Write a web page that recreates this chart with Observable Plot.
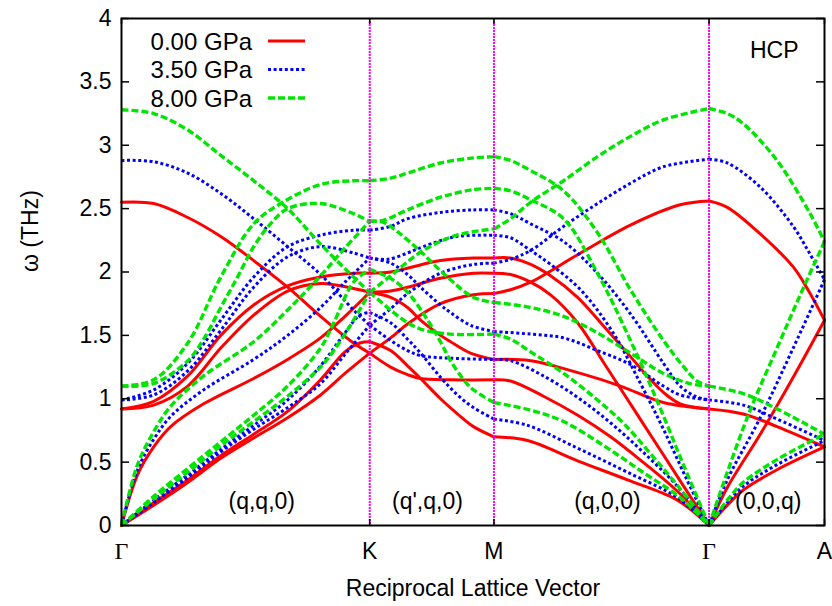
<!DOCTYPE html>
<html>
<head>
<meta charset="utf-8">
<script src="https://cdn.jsdelivr.net/npm/d3@7"></script>
<script src="https://cdn.jsdelivr.net/npm/@observablehq/plot@0.6"></script>
<style>
  html, body { margin: 0; padding: 0; background: white; }
  svg { display: block; }
</style>
</head>
<body>
<script>
// ---------- data (q along the path Γ-K-M-Γ-A, ω in THz) ----------
const tickPos = [0, 1.333, 2.0, 3.155, 3.775];
const tickLabels = ["Γ", "K", "M", "Γ", "A"];
const yTicks = [0, 0.5, 1, 1.5, 2, 2.5, 3, 3.5, 4];
const pressures = ["0.00 GPa", "3.50 GPa", "8.00 GPa"];
const pathLabels = ["(q,q,0)", "(q',q,0)", "(q,0,0)", "(0,0,q)"];
const pathLabelQ = [0.753, 1.643, 2.609, 3.473];

// 0.00 GPa
const red_GK = [
  [[0,2.55],[0.173,2.54],[0.356,2.43],[0.533,2.28],[0.71,2.09],[0.892,1.88],[1.069,1.65],[1.246,1.44],[1.333,1.36]],
  [[0,0.92],[0.173,0.98],[0.356,1.18],[0.533,1.50],[0.71,1.74],[0.892,1.89],[1.069,1.96],[1.246,1.99],[1.333,1.99]],
  [[0,0.92],[0.173,0.95],[0.356,1.10],[0.533,1.40],[0.71,1.66],[0.892,1.85],[1.069,1.91],[1.246,1.87],[1.333,1.84]],
  [[0,0],[0.086,0.40],[0.173,0.62],[0.264,0.78],[0.441,0.96],[0.71,1.16],[0.892,1.31],[1.069,1.48],[1.2,1.65],[1.333,1.84]],
  [[0,0],[0.173,0.16],[0.356,0.34],[0.533,0.53],[0.71,0.69],[0.892,0.85],[1.069,1.03],[1.2,1.2],[1.333,1.36]],
  [[0,0],[0.173,0.18],[0.356,0.36],[0.533,0.55],[0.71,0.72],[0.892,0.9],[1.069,1.15],[1.2,1.37],[1.28,1.44],[1.333,1.45]]
];
const red_KM = [
  [[1.333,1.99],[1.445,2.0],[1.536,2.03],[1.713,2.09],[1.89,2.11],[2.0,2.11]],
  [[1.333,1.84],[1.445,1.85],[1.536,1.88],[1.713,1.95],[1.89,1.99],[2.0,1.99]],
  [[1.333,1.84],[1.445,1.80],[1.536,1.72],[1.606,1.62],[1.713,1.50],[1.767,1.45],[1.874,1.36],[2.0,1.31]],
  [[1.333,1.45],[1.445,1.38],[1.536,1.26],[1.606,1.16],[1.713,1.0],[1.804,0.88],[1.89,0.78],[2.0,0.70]],
  [[1.333,1.36],[1.445,1.25],[1.536,1.19],[1.606,1.16],[1.767,1.15],[2.0,1.15]],
  [[1.333,1.36],[1.445,1.48],[1.536,1.59],[1.713,1.75],[1.89,1.82],[2.0,1.83]]
];
const red_MG = [
  [[2.0,1.83],[2.089,1.86],[2.197,1.92],[2.465,2.15],[2.733,2.37],[3.0,2.53],[3.155,2.56]],
  [[2.0,2.11],[2.089,2.11],[2.197,2.06],[2.304,1.97],[2.449,1.80],[2.573,1.60],[2.717,1.36],[2.823,1.18],[2.91,1.05],[3.0,0.96],[3.155,0.92]],
  [[2.0,1.99],[2.089,1.98],[2.197,1.92],[2.304,1.82],[2.449,1.60],[2.6,1.26],[2.75,0.92],[2.9,0.58],[3.155,0]],
  [[2.0,1.31],[2.197,1.30],[2.465,1.20],[2.68,1.10],[2.91,0.97],[3.155,0.92]],
  [[2.0,1.15],[2.089,1.14],[2.266,1.02],[2.45,0.87],[2.626,0.70],[2.8,0.50],[2.985,0.27],[3.155,0]],
  [[2.0,0.70],[2.18,0.67],[2.449,0.51],[2.717,0.36],[2.985,0.20],[3.155,0]]
];
const red_GA = [
  [[3.155,2.56],[3.253,2.51],[3.43,2.30],[3.607,2.04],[3.69,1.85],[3.775,1.62]],
  [[3.155,0],[3.253,0.30],[3.43,0.72],[3.607,1.17],[3.775,1.62]],
  [[3.155,0.92],[3.339,0.88],[3.52,0.78],[3.775,0.62]],
  [[3.155,0],[3.253,0.16],[3.339,0.28],[3.52,0.44],[3.775,0.62]]
];

// 3.50 GPa
const blue_GK = [
  [[0,2.88],[0.173,2.87],[0.356,2.78],[0.533,2.62],[0.71,2.42],[0.892,2.2],[1.069,1.98],[1.246,1.70],[1.333,1.58]],
  [[0,0.99],[0.173,1.07],[0.356,1.28],[0.533,1.62],[0.71,1.96],[0.892,2.2],[1.069,2.29],[1.246,2.33],[1.333,2.33]],
  [[0,0.99],[0.173,1.03],[0.356,1.22],[0.533,1.54],[0.71,1.88],[0.892,2.12],[1.069,2.2],[1.246,2.15],[1.333,2.11]],
  [[0,0],[0.086,0.44],[0.173,0.68],[0.264,0.86],[0.441,1.07],[0.71,1.31],[0.892,1.5],[1.069,1.72],[1.2,1.92],[1.333,2.11]],
  [[0,0],[0.173,0.18],[0.356,0.38],[0.533,0.58],[0.71,0.76],[0.892,0.93],[1.069,1.12],[1.2,1.35],[1.333,1.58]],
  [[0,0],[0.173,0.2],[0.356,0.4],[0.533,0.6],[0.71,0.79],[0.892,0.99],[1.069,1.26],[1.2,1.52],[1.28,1.66],[1.333,1.68]]
];
const blue_KM = [
  [[1.333,2.33],[1.445,2.36],[1.536,2.42],[1.713,2.47],[1.89,2.49],[2.0,2.49]],
  [[1.333,2.11],[1.43,2.10],[1.536,2.15],[1.62,2.2],[1.8,2.28],[2.0,2.29]],
  [[1.333,2.11],[1.445,2.07],[1.536,1.98],[1.606,1.88],[1.713,1.74],[1.767,1.68],[1.874,1.58],[2.0,1.53]],
  [[1.333,1.68],[1.445,1.60],[1.536,1.47],[1.606,1.36],[1.713,1.17],[1.804,1.03],[1.89,0.93],[2.0,0.84]],
  [[1.333,1.58],[1.445,1.46],[1.536,1.38],[1.606,1.34],[1.767,1.32],[2.0,1.31]],
  [[1.333,1.58],[1.445,1.71],[1.536,1.83],[1.713,1.99],[1.89,2.06],[2.0,2.07]]
];
const blue_MG = [
  [[2.0,2.07],[2.089,2.10],[2.197,2.17],[2.374,2.36],[2.556,2.54],[2.733,2.70],[2.91,2.83],[3.155,2.89]],
  [[2.0,2.49],[2.089,2.46],[2.197,2.38],[2.374,2.24],[2.556,1.99],[2.733,1.67],[2.91,1.28],[3.0,1.10],[3.08,1.02],[3.155,0.99]],
  [[2.0,2.29],[2.089,2.27],[2.197,2.17],[2.304,2.06],[2.465,1.86],[2.64,1.52],[2.787,1.12],[2.91,0.76],[3.03,0.38],[3.155,0]],
  [[2.0,1.53],[2.197,1.51],[2.374,1.48],[2.556,1.38],[2.733,1.27],[2.91,1.10],[3.0,1.03],[3.155,0.99]],
  [[2.0,1.31],[2.089,1.30],[2.266,1.18],[2.45,1.01],[2.626,0.81],[2.8,0.58],[2.985,0.31],[3.155,0]],
  [[2.0,0.84],[2.18,0.79],[2.449,0.61],[2.717,0.42],[2.985,0.22],[3.155,0]]
];
const blue_GA = [
  [[3.155,2.89],[3.253,2.86],[3.43,2.67],[3.607,2.36],[3.69,2.16],[3.775,1.94]],
  [[3.155,0],[3.253,0.36],[3.43,0.85],[3.607,1.40],[3.775,1.94]],
  [[3.155,0.99],[3.339,0.95],[3.52,0.84],[3.775,0.67]],
  [[3.155,0],[3.253,0.18],[3.339,0.31],[3.52,0.48],[3.775,0.67]]
];

// 8.00 GPa
const green_GK = [
  [[0,3.28],[0.173,3.25],[0.356,3.12],[0.533,2.92],[0.71,2.72],[0.892,2.5],[1.069,2.22],[1.246,1.96],[1.333,1.84]],
  [[0,1.10],[0.173,1.15],[0.356,1.44],[0.533,1.96],[0.71,2.38],[0.855,2.54],[1.069,2.69],[1.246,2.72],[1.333,2.72]],
  [[0,1.10],[0.173,1.12],[0.356,1.30],[0.441,1.47],[0.533,1.72],[0.623,1.96],[0.71,2.2],[0.8,2.38],[0.892,2.5],[1.069,2.54],[1.246,2.46],[1.333,2.40]],
  [[0,0],[0.086,0.48],[0.173,0.74],[0.264,0.94],[0.441,1.18],[0.71,1.45],[0.892,1.7],[1.069,1.97],[1.2,2.19],[1.333,2.40]],
  [[0,0],[0.173,0.21],[0.356,0.42],[0.533,0.63],[0.71,0.82],[0.892,1.02],[1.069,1.25],[1.14,1.38],[1.246,1.62],[1.333,1.84]],
  [[0,0],[0.173,0.23],[0.356,0.45],[0.533,0.66],[0.71,0.87],[0.892,1.1],[1.069,1.4],[1.14,1.6],[1.246,1.92],[1.333,2.02]]
];
const green_KM = [
  [[1.333,2.72],[1.445,2.74],[1.536,2.78],[1.713,2.86],[1.89,2.9],[2.0,2.91]],
  [[1.333,2.40],[1.41,2.41],[1.536,2.49],[1.713,2.59],[1.89,2.65],[2.0,2.66]],
  [[1.333,2.40],[1.41,2.39],[1.48,2.32],[1.6,2.17],[1.75,1.96],[1.89,1.80],[2.0,1.76]],
  [[1.333,2.02],[1.445,1.95],[1.536,1.84],[1.644,1.62],[1.713,1.45],[1.767,1.30],[1.874,1.09],[2.0,0.97]],
  [[1.333,1.84],[1.445,1.70],[1.536,1.60],[1.606,1.55],[1.767,1.51],[2.0,1.51]],
  [[1.333,1.84],[1.445,1.97],[1.62,2.17],[1.8,2.29],[2.0,2.34]]
];
const green_MG = [
  [[2.0,2.34],[2.089,2.42],[2.197,2.55],[2.374,2.72],[2.556,2.91],[2.733,3.07],[2.91,3.2],[3.155,3.29]],
  [[2.0,2.91],[2.089,2.88],[2.197,2.80],[2.374,2.64],[2.556,2.31],[2.733,1.86],[2.91,1.46],[3.02,1.25],[3.09,1.14],[3.155,1.10]],
  [[2.0,2.66],[2.089,2.64],[2.197,2.57],[2.374,2.42],[2.556,1.99],[2.733,1.46],[2.88,0.97],[3.02,0.47],[3.155,0]],
  [[2.0,1.76],[2.197,1.72],[2.374,1.65],[2.556,1.52],[2.733,1.36],[2.91,1.2],[3.05,1.12],[3.155,1.10]],
  [[2.0,1.51],[2.089,1.47],[2.197,1.37],[2.374,1.2],[2.556,0.99],[2.7,0.8],[2.85,0.55],[3.0,0.29],[3.155,0]],
  [[2.0,0.97],[2.197,0.91],[2.374,0.82],[2.6,0.62],[2.8,0.42],[3.0,0.22],[3.155,0]]
];
const green_GA = [
  [[3.155,3.29],[3.253,3.25],[3.339,3.17],[3.52,2.88],[3.698,2.46],[3.775,2.24]],
  [[3.155,0],[3.253,0.42],[3.376,0.91],[3.52,1.40],[3.645,1.82],[3.775,2.24]],
  [[3.155,1.10],[3.339,1.04],[3.52,0.92],[3.775,0.72]],
  [[3.155,0],[3.253,0.2],[3.339,0.34],[3.52,0.52],[3.775,0.72]]
];

// ---------- styles ----------
const styles = [
  {stroke: "#ff0000", strokeWidth: 3, dash: null},
  {stroke: "#0000ff", strokeWidth: 3, dash: "3,2.6"},
  {stroke: "#00e600", strokeWidth: 3.4, dash: "7,3"}
];
const seriesSegments = [
  [red_GK, red_KM, red_MG, red_GA],
  [blue_GK, blue_KM, blue_MG, blue_GA],
  [green_GK, green_KM, green_MG, green_GA]
];

// ---------- build table ----------
const rows = [];
seriesSegments.forEach((segs, p) => {
  segs.forEach((seg, s) => {
    seg.forEach((branch, b) => {
      branch.forEach(([q, w]) => rows.push({p, q, w, id: `${p}-${s}-${b}`}));
    });
  });
});
const xTickData = tickPos.map((q, i) => ({q, label: tickLabels[i]}));
const pathLabelData = pathLabels.map((label, i) => ({label, q: pathLabelQ[i]}));

// ---------- layout ----------
const W = 832, H = 606, mL = 121, mR = 8, mT = 18, mB = 81;
const plotW = W - mL - mR, plotH = H - mT - mB;
const FS = 23;

const lineMarks = styles.map((st, p) =>
  Plot.line(rows.filter(r => r.p === p), {
    x: "q", y: "w", z: "id",
    stroke: st.stroke, strokeWidth: st.strokeWidth,
    strokeDasharray: st.dash || undefined, curve: "catmull-rom"
  })
);

const chart = Plot.plot({
  width: W, height: H,
  marginLeft: mL, marginRight: mR, marginTop: mT, marginBottom: mB,
  style: {fontFamily: "'Liberation Sans', Arial, sans-serif", fontSize: FS + "px", background: "white", color: "black"},
  x: {domain: [0, 3.775], axis: null},
  y: {domain: [0, 4], axis: null},
  marks: [
    ...lineMarks,
    Plot.ruleX(tickPos.slice(1, 4), {x: d => d, stroke: "#ff00ff", strokeWidth: 2, strokeDasharray: "2,1"}),
    Plot.tickY(yTicks, {y: d => d, stroke: "black", strokeWidth: 1.5, insetRight: plotW - 8}),
    Plot.tickY(yTicks, {y: d => d, stroke: "black", strokeWidth: 1.5, insetLeft: plotW - 8}),
    Plot.tickX(tickPos, {x: d => d, stroke: "black", strokeWidth: 1.5, insetTop: plotH - 6}),
    Plot.tickX(tickPos, {x: d => d, stroke: "black", strokeWidth: 1.5, insetBottom: plotH - 6}),
    Plot.frame({stroke: "black", strokeWidth: 2}),
    Plot.text(yTicks, {y: d => d, text: d => String(d), frameAnchor: "left", dx: -10, textAnchor: "end", fontSize: FS}),
    Plot.text(xTickData.filter(d => d.label === "Γ"), {x: "q", text: "label", frameAnchor: "bottom", dy: 26, lineAnchor: "middle", fontSize: FS + 1, fontFamily: "'Liberation Serif', 'DejaVu Serif', serif"}),
    Plot.text(xTickData.filter(d => d.label !== "Γ"), {x: "q", text: "label", frameAnchor: "bottom", dy: 26, lineAnchor: "middle", fontSize: FS}),
    Plot.text(pathLabelData, {x: "q", text: "label", frameAnchor: "bottom", dy: -24, lineAnchor: "middle", fontSize: FS}),
    Plot.text(["ω (THz)"], {text: d => d, frameAnchor: "left", dx: -91, rotate: -90, lineAnchor: "middle", fontSize: FS}),
    Plot.text(["Reciprocal Lattice Vector"], {text: d => d, frameAnchor: "bottom", dy: 63, lineAnchor: "middle", fontSize: FS}),
    Plot.text(["HCP"], {text: d => d, frameAnchor: "top-right", dx: -26, dy: 32, textAnchor: "end", lineAnchor: "middle", fontSize: FS})
  ]
});

// make sure the dash patterns are on every branch path
d3.select(chart).selectAll('g[aria-label="line"]').each(function(_, i) {
  const st = styles[i];
  if (st && st.dash) {
    d3.select(this).attr("stroke-dasharray", st.dash)
      .selectAll("path").attr("stroke-dasharray", st.dash).attr("stroke-linecap", "butt");
  }
});

// ---------- legend (inside the plot, top-left) ----------
const leg = d3.select(chart).append("g").attr("class", "legend");
pressures.forEach((label, i) => {
  const y = 41 + i * 28.5;
  leg.append("text")
    .attr("x", 252).attr("y", y).attr("dy", "0.36em")
    .attr("text-anchor", "end")
    .attr("font-size", 24)
    .attr("fill", "black")
    .text(label);
  leg.append("line")
    .attr("x1", 268).attr("x2", 305).attr("y1", y).attr("y2", y)
    .attr("stroke", styles[i].stroke)
    .attr("stroke-width", styles[i].strokeWidth)
    .attr("stroke-dasharray", styles[i].dash);
});

document.body.append(chart);
</script>
</body>
</html>
